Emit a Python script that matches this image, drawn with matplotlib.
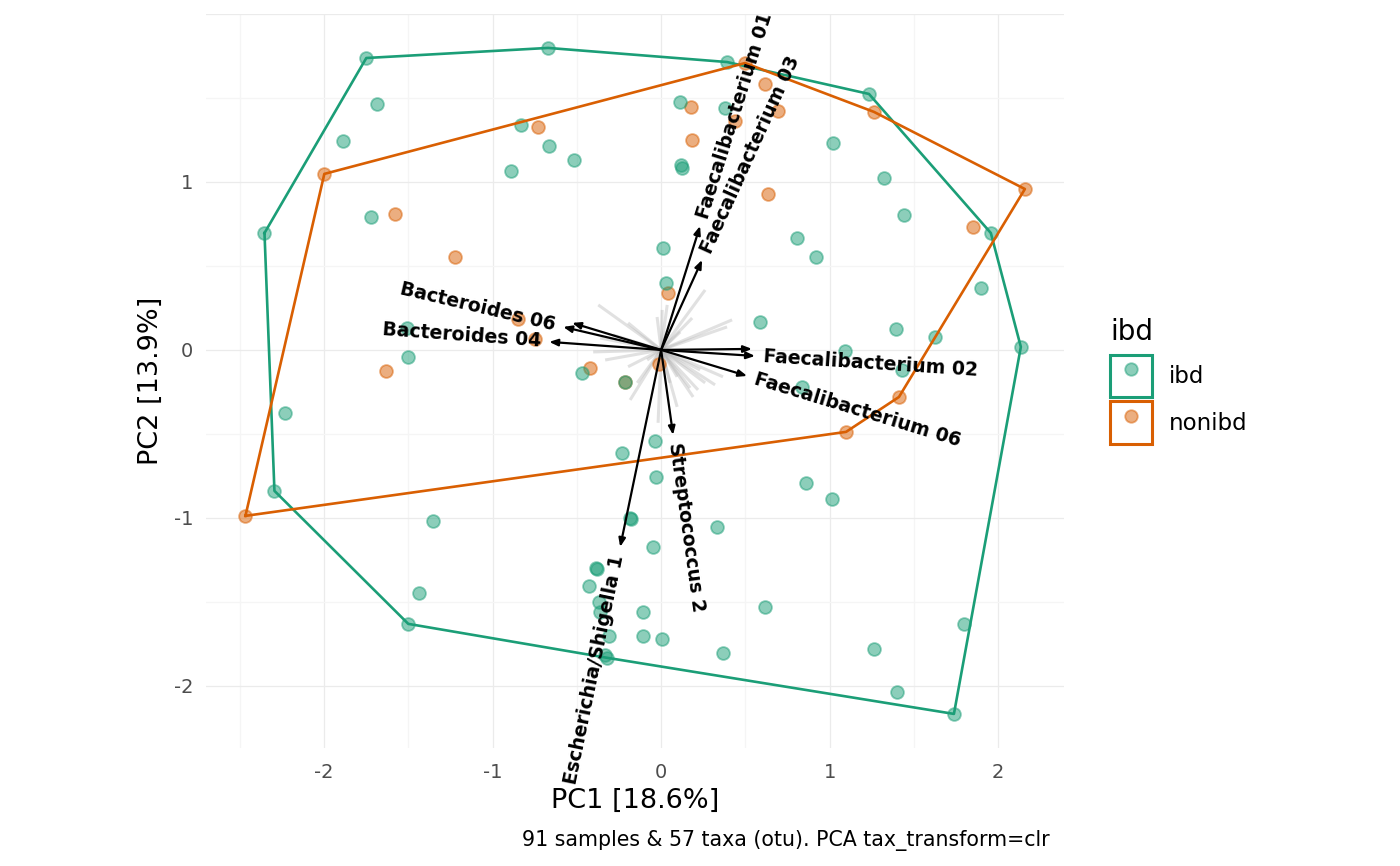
import numpy as np
import matplotlib.pyplot as plt
from matplotlib.patches import Rectangle
from matplotlib.lines import Line2D
from matplotlib.legend_handler import HandlerTuple

# PCA sample scores
ibd_x = [-1.749, -0.670, 0.391, 1.233, -1.684, -1.885, -0.830, -0.664, -0.516, -0.889,
         0.113, 0.379, 0.119, 0.124, 1.020, 1.322, -1.719, -2.353, 1.441, 0.012,
         0.806, 0.919, 0.030, 1.897, 1.956, -1.506, -1.500, 0.587, 1.393, 1.624,
         1.091, 2.134, -0.468, -0.213, 1.429, 0.836, -2.229, -0.036, -0.231, -0.030,
         -2.294, -1.352, -0.184, -0.178, 0.332, -0.047, 0.860, 1.014, -0.385, -0.379,
         -0.427, -0.368, -0.362, -1.435, -0.107, -0.308, -0.107, 0.006, -0.320, -0.332,
         0.617, 0.368, -1.500, 1.263, 1.399, 1.737, 1.796]
ibd_y = [1.738, 1.798, 1.714, 1.524, 1.464, 1.244, 1.339, 1.214, 1.131, 1.065,
         1.476, 1.440, 1.101, 1.083, 1.232, 1.024, 0.792, 0.696, 0.804, 0.607,
         0.667, 0.554, 0.399, 0.369, 0.696, 0.131, -0.042, 0.167, 0.125, 0.077,
         -0.006, 0.018, -0.137, -0.190, -0.119, -0.220, -0.375, -0.542, -0.613, -0.756,
         -0.839, -1.018, -1.000, -1.006, -1.054, -1.173, -0.792, -0.887, -1.298, -1.304,
         -1.405, -1.500, -1.560, -1.446, -1.560, -1.702, -1.702, -1.720, -1.833, -1.815,
         -1.530, -1.804, -1.631, -1.780, -2.036, -2.167, -1.631]

nonibd_x = [0.498, 0.617, 0.694, 1.263, 0.178, 0.439, 0.184, 0.634, -0.729, -1.998,
            -1.577, -1.221, 1.849, 2.158, 0.041, -0.848, -0.747, -1.630, -0.421, -0.012,
            1.411, 1.097, -2.466, -0.213]
nonibd_y = [1.708, 1.583, 1.423, 1.417, 1.446, 1.363, 1.250, 0.929, 1.327, 1.048,
            0.810, 0.554, 0.732, 0.958, 0.339, 0.185, 0.065, -0.125, -0.107, -0.083,
            -0.280, -0.488, -0.988, -0.190]

# top taxa loadings (black arrows), blank name = unlabelled
top_names = ['Faecalibacterium 01', 'Faecalibacterium 03', 'Bacteroides 06', '',
             'Bacteroides 04', 'Faecalibacterium 02', '', 'Faecalibacterium 06',
             'Streptococcus 2', 'Escherichia/Shigella 1']
top_x = [0.231, 0.243, -0.581, -0.528, -0.664, 0.557, 0.539, 0.510, 0.071, -0.243]
top_y = [0.738, 0.536, 0.137, 0.161, 0.048, -0.036, 0.006, -0.155, -0.506, -1.173]

# other taxa loadings (grey lines)
other_x = [-0.373, -0.196, 0.261, 0.184, 0.421, 0.391, -0.403, -0.332, -0.196, -0.184,
           -0.024, 0.036, 0.006, 0.095, -0.018, 0.172, 0.320, 0.367, 0.261, 0.219,
           -0.166, -0.362, -0.285, 0.113, 0.095, 0.053, 0.231, -0.142, -0.083, 0.190]
other_y = [0.268, 0.161, 0.357, 0.190, 0.179, 0.137, -0.012, -0.060, -0.100, -0.298,
           0.196, 0.268, 0.238, -0.339, -0.434, -0.226, -0.208, -0.160, -0.196, -0.238,
           0.042, 0.071, 0.089, 0.107, -0.160, -0.196, -0.119, -0.196, -0.060, -0.280]

groups = ['ibd', 'nonibd']
colors = {'ibd': '#1B9E77', 'nonibd': '#D95F02'}

xlab = 'PC1 [18.6%]'
ylab = 'PC2 [13.9%]'
caption = '91 samples & 57 taxa (otu). PCA tax_transform=clr'


def hull(xs, ys):
    pts = sorted(set(zip(xs, ys)))
    def cross(o, a, b):
        return (a[0]-o[0])*(b[1]-o[1]) - (a[1]-o[1])*(b[0]-o[0])
    lower, upper = [], []
    for p in pts:
        while len(lower) >= 2 and cross(lower[-2], lower[-1], p) <= 0:
            lower.pop()
        lower.append(p)
    for p in reversed(pts):
        while len(upper) >= 2 and cross(upper[-2], upper[-1], p) <= 0:
            upper.pop()
        upper.append(p)
    h = lower[:-1] + upper[:-1]
    h.append(h[0])
    return np.array(h)


fig = plt.figure(figsize=(14, 8.66), dpi=100)
ax = fig.add_axes([206/1400, 118/866, 858/1400, 734/866])

ax.set_xlim(-2.70, 2.39)
ax.set_ylim(-2.37, 2.0)

# grid
for v in np.arange(-2.5, 2.6, 0.5):
    major = float(v).is_integer()
    ax.axvline(v, color='#ebebeb' if major else '#f5f5f5', lw=0.9, zorder=0)
for v in np.arange(-2.0, 2.1, 0.5):
    major = float(v).is_integer()
    ax.axhline(v, color='#ebebeb' if major else '#f5f5f5', lw=0.9, zorder=0)

# grey loadings
for x, y in zip(other_x, other_y):
    ax.plot([0, x], [0, y], color='#b5b5b5', alpha=0.4, lw=2.2, solid_capstyle='butt', zorder=1)

# points and hulls (nonibd drawn first)
data = {'ibd': (ibd_x, ibd_y), 'nonibd': (nonibd_x, nonibd_y)}
for g in ['nonibd', 'ibd']:
    xs, ys = data[g]
    ax.scatter(xs, ys, s=85, facecolor=colors[g], edgecolor=colors[g], alpha=0.5,
               linewidths=1.3, zorder=2)
for g in groups:
    xs, ys = data[g]
    h = hull(xs, ys)
    ax.plot(h[:, 0], h[:, 1], color=colors[g], lw=1.9, zorder=3)

# top loadings with labels
for name, x, y in zip(top_names, top_x, top_y):
    ax.annotate('', xy=(x, y), xytext=(0, 0),
                arrowprops=dict(arrowstyle='-|>,head_length=0.5,head_width=0.2',
                                color='black', lw=1.6, shrinkA=0, shrinkB=0),
                zorder=4)
    if name:
        ang = np.arctan2(y, x)
        rot = np.degrees(np.arctan(y / x))
        ax.annotate(name, xy=(x, y), xytext=(6*np.cos(ang), 6*np.sin(ang)),
                    textcoords='offset points', rotation=rot, rotation_mode='anchor',
                    ha='left' if x > 0 else 'right', va='center',
                    fontsize=13.6, fontweight='bold', color='black', zorder=5)

ax.set_xticks([-2, -1, 0, 1, 2])
ax.set_yticks([-2, -1, 0, 1])
ax.set_xticklabels(['-2', '-1', '0', '1', '2'])
ax.set_yticklabels(['-2', '-1', '0', '1'])
ax.tick_params(length=0, labelsize=14, labelcolor='#4d4d4d', pad=9)
ax.tick_params(axis='x', pad=11)
for s in ax.spines.values():
    s.set_visible(False)
ax.set_xlabel(xlab, fontsize=19.5, labelpad=4)
ax.set_ylabel(ylab, fontsize=19.5, labelpad=7)

fig.text(1050/1400, 1 - 846/866, caption, ha='right', va='baseline', fontsize=14.8)

# legend: hull outline box with a point inside
handles = []
for g in groups:
    box = Rectangle((0, 0), 1, 1, facecolor='white', edgecolor=colors[g], lw=2.2)
    pt = Line2D([], [], marker='o', ls='none', markersize=9, markerfacecolor=colors[g],
                markeredgecolor=colors[g], alpha=0.5, mew=1.3)
    handles.append((box, pt))
leg = ax.legend(handles, groups, handler_map={tuple: HandlerTuple(ndivide=1)},
                loc='upper left', bbox_to_anchor=(1099/1400, 1 - 307/866),
                bbox_transform=fig.transFigure, frameon=False, title='ibd',
                fontsize=16.5, title_fontsize=20, handlelength=1.8, handleheight=2.45,
                handletextpad=0.75, labelspacing=0.2, borderpad=0, alignment='left')
leg._legend_box.sep = 6

fig.savefig('out.png', dpi=100)
